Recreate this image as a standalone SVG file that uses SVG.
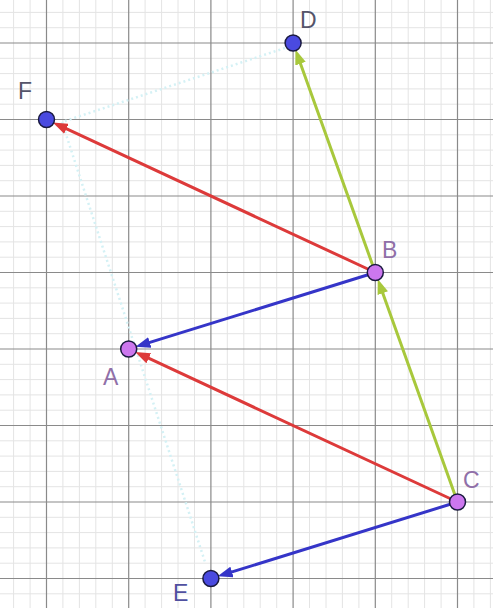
<svg xmlns="http://www.w3.org/2000/svg" width="493" height="608" viewBox="0 0 493 608">
<style>
.minor{stroke:#e4e4e4;stroke-width:1;fill:none}
.major{stroke:#8a8a8a;stroke-width:1.2;fill:none}
.vec{stroke-width:3;fill:none;stroke-linecap:round}
.red{stroke:#dd3a3a}
.blue{stroke:#3535c8}
.green{stroke:#a8c83c}
.pt{stroke:#1a1a40;stroke-width:1.5}
.ptblue{fill:#4a4ae0}
.ptpurple{fill:#cc77ee}
.lbl{font-family:"Liberation Sans",Arial,sans-serif;font-size:23px}
.faint{stroke:#d4f1f5;stroke-width:2.5;fill:none;stroke-dasharray:2 3}
</style>
<defs>
<marker id="ahRed" markerUnits="userSpaceOnUse" markerWidth="15" markerHeight="11" refX="5" refY="5.5" orient="auto"><path d="M0,0 L15,5.5 L0,11 z" fill="#dd3a3a"/></marker>
<marker id="ahBlue" markerUnits="userSpaceOnUse" markerWidth="15" markerHeight="11" refX="5" refY="5.5" orient="auto"><path d="M0,0 L15,5.5 L0,11 z" fill="#3535c8"/></marker>
<marker id="ahGreen" markerUnits="userSpaceOnUse" markerWidth="15" markerHeight="11" refX="5" refY="5.5" orient="auto"><path d="M0,0 L15,5.5 L0,11 z" fill="#a8c83c"/></marker>
</defs>
<rect width="493" height="608" fill="#ffffff"/>
<g id="grid">
<path class="minor" d="M13.6,0V608 M30.1,0V608 M62.9,0V608 M79.4,0V608 M95.8,0V608 M112.3,0V608 M145.1,0V608 M161.6,0V608 M178,0V608 M194.5,0V608 M227.3,0V608 M243.8,0V608 M260.2,0V608 M276.7,0V608 M309.5,0V608 M326,0V608 M342.4,0V608 M358.9,0V608 M391.7,0V608 M408.2,0V608 M424.6,0V608 M441.1,0V608 M473.9,0V608 M490.4,0V608
M0,12.4H493 M0,27.7H493 M0,58.3H493 M0,73.6H493 M0,88.9H493 M0,104.2H493 M0,134.8H493 M0,150.1H493 M0,165.4H493 M0,180.7H493 M0,211.3H493 M0,226.6H493 M0,241.9H493 M0,257.2H493 M0,287.8H493 M0,303.1H493 M0,318.4H493 M0,333.7H493 M0,364.3H493 M0,379.6H493 M0,394.9H493 M0,410.2H493 M0,440.8H493 M0,456.1H493 M0,471.4H493 M0,486.7H493 M0,517.3H493 M0,532.6H493 M0,547.9H493 M0,563.2H493 M0,593.8H493"/>
<path class="major" d="M46.5,0V608 M128.7,0V608 M210.9,0V608 M293.1,0V608 M375.3,0V608 M457.5,0V608
M0,43H493 M0,119.5H493 M0,196H493 M0,272.5H493 M0,349H493 M0,425.5H493 M0,502H493 M0,578.5H493"/>
</g>
<g id="watermark">
<path class="faint" d="M285,48 L62,122 L205,562"/>
</g>
<g id="connectors">
<line class="vec green" x1="457.5" y1="502" x2="381.1" y2="288.5" marker-end="url(#ahGreen)"/>
<line class="vec green" x1="375.3" y1="272.5" x2="298.8" y2="59" marker-end="url(#ahGreen)"/>
<line class="vec red" x1="375.3" y1="272.5" x2="61.9" y2="126.7" marker-end="url(#ahRed)"/>
<line class="vec red" x1="457.5" y1="502" x2="144.2" y2="356.2" marker-end="url(#ahRed)"/>
<line class="vec blue" x1="375.3" y1="272.5" x2="145" y2="343.9" marker-end="url(#ahBlue)"/>
<line class="vec blue" x1="457.5" y1="502" x2="227.2" y2="573.4" marker-end="url(#ahBlue)"/>
</g>
<g id="D"><circle class="pt ptblue" cx="293.1" cy="43" r="8"/><text class="lbl" x="300" y="28" fill="#55556a">D</text></g>
<g id="F"><circle class="pt ptblue" cx="46.5" cy="119.5" r="8"/><text class="lbl" x="18" y="99" fill="#55556a">F</text></g>
<g id="B"><circle class="pt ptpurple" cx="375.3" cy="272.5" r="8"/><text class="lbl" x="382" y="258" fill="#9070a8">B</text></g>
<g id="A"><circle class="pt ptpurple" cx="128.7" cy="349" r="8"/><text class="lbl" x="103" y="385" fill="#9070a8">A</text></g>
<g id="C"><circle class="pt ptpurple" cx="457.5" cy="502" r="8"/><text class="lbl" x="463" y="488" fill="#9070a8">C</text></g>
<g id="E"><circle class="pt ptblue" cx="210.9" cy="578.5" r="8"/><text class="lbl" x="173" y="601" fill="#5050a0">E</text></g>
</svg>
